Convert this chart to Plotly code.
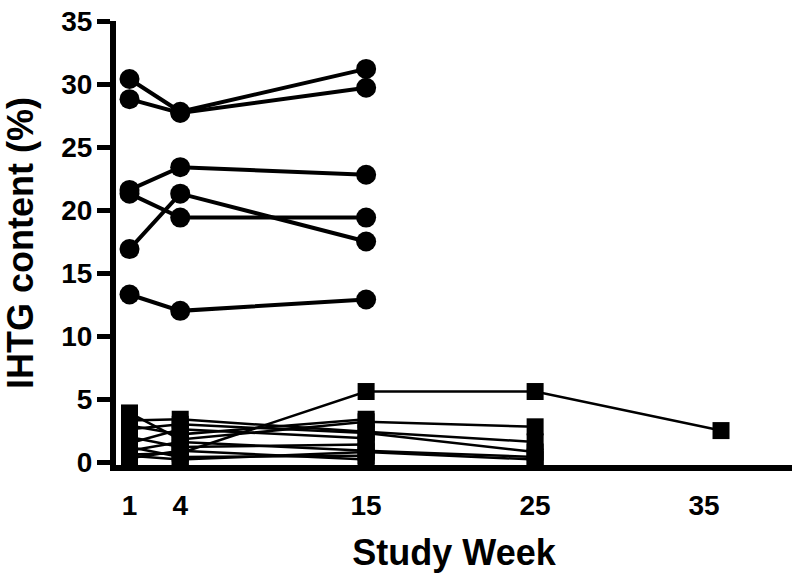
import plotly.graph_objects as go

# Circle group (week, IHTG %)
circle_weeks = [1, 4, 15]
circle_series = [
    [30.4, 27.8, 31.2],
    [28.8, 27.7, 29.7],
    [21.6, 23.4, 22.8],
    [21.3, 19.4, 19.4],
    [16.9, 21.3, 17.5],
    [13.3, 12.0, 12.9],
]

# Square group: (weeks, values)
square_weeks = [
    [1, 4, 15, 25, 36],
    [1, 4, 15, 25],
    [1, 4, 15, 25],
    [1, 4, 15, 25],
    [1, 4, 15],
    [1, 4, 15],
    [1, 4, 15],
    [1, 4, 15, 25],
    [1, 4, 15],
    [1, 4, 15],
    [1, 4, 15, 25],
]
square_values = [
    [0.6, 0.7, 5.6, 5.6, 2.5],
    [3.9, 1.8, 3.2, 2.8],
    [3.3, 3.4, 2.4, 1.6],
    [2.6, 3.0, 2.3, 0.8],
    [2.9, 2.2, 3.4],
    [1.5, 2.6, 1.9],
    [2.0, 1.2, 1.4],
    [0.9, 1.6, 0.9, 0.4],
    [1.2, 0.4, 0.5],
    [0.3, 0.9, 0.2],
    [0.5, 0.2, 0.8, 0.2],
]

x_ticks = [1, 4, 15, 25, 35]
y_ticks = [0, 5, 10, 15, 20, 25, 30, 35]

FONT = "Liberation Sans, Arial, sans-serif"

fig = go.Figure()

for w, v in zip(square_weeks, square_values):
    fig.add_trace(go.Scatter(
        x=w, y=v, mode="lines+markers",
        line=dict(color="black", width=2.5),
        marker=dict(symbol="square", size=17, color="black"),
        cliponaxis=False, showlegend=False, hoverinfo="skip",
    ))

for v in circle_series:
    fig.add_trace(go.Scatter(
        x=circle_weeks, y=v, mode="lines+markers",
        line=dict(color="black", width=4),
        marker=dict(symbol="circle", size=20, color="black"),
        cliponaxis=False, showlegend=False, hoverinfo="skip",
    ))

fig.update_layout(
    width=797, height=581,
    margin=dict(l=116, r=5, t=21, b=116),
    paper_bgcolor="white", plot_bgcolor="white",
    font=dict(family=FONT, color="black"),
    xaxis=dict(
        range=[0.2, 40.2], tickvals=x_ticks, ticktext=[str(t) for t in x_ticks],
        automargin=False,
        showgrid=False, zeroline=False, showline=True, linecolor="black", linewidth=6,
        ticks="", tickfont=dict(size=28, family=FONT, weight="bold"),
        ticklabelstandoff=10, ticklabeloverflow="allow",
        title=dict(text="<b>Study Week</b>", font=dict(size=36, family=FONT), standoff=22),
    ),
    yaxis=dict(
        range=[-0.23, 35], tickvals=y_ticks,
        automargin=False,
        showgrid=False, zeroline=False, showline=True, linecolor="black", linewidth=6,
        ticks="outside", ticklen=13, tickwidth=5, tickcolor="black",
        tickfont=dict(size=28, family=FONT, weight="bold"),
        ticklabelstandoff=-1, ticklabeloverflow="allow",
        title=dict(text="<b>IHTG content (%)</b>", font=dict(size=36, family=FONT), standoff=50),
    ),
)

fig.write_html(
    "out.html",
    config={"displayModeBar": False},
    post_script="document.body.style.margin='0';",
)
